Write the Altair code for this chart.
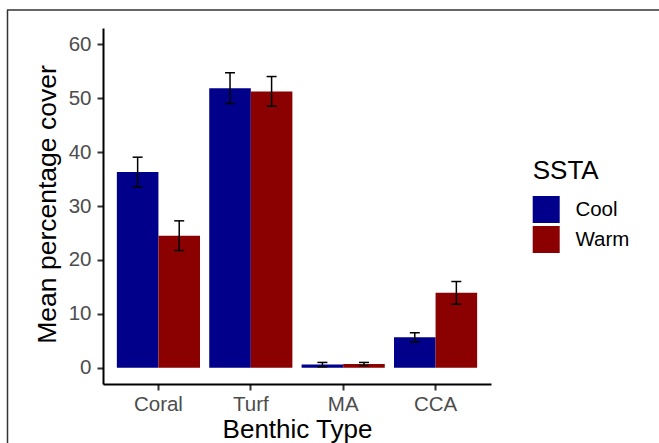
import altair as alt
import pandas as pd

categories = ["Coral", "Turf", "MA", "CCA"]
groups = ["Cool", "Warm"]
mean_cool = [36.3, 51.85, 0.6, 5.65]
mean_warm = [24.5, 51.25, 0.7, 13.9]
se_cool = [2.75, 2.85, 0.4, 0.85]
se_warm = [2.75, 2.75, 0.3, 2.1]
y_ticks = [0, 10, 20, 30, 40, 50, 60]
colors = ["#00008B", "#8B0000"]

rows = []
for i, c in enumerate(categories):
    rows.append(dict(type=c, SSTA="Cool", mean=mean_cool[i],
                     lo=mean_cool[i] - se_cool[i], hi=mean_cool[i] + se_cool[i]))
    rows.append(dict(type=c, SSTA="Warm", mean=mean_warm[i],
                     lo=mean_warm[i] - se_warm[i], hi=mean_warm[i] + se_warm[i]))
df = pd.DataFrame(rows)

FONT = "Liberation Sans"

x_enc = alt.X(
    "type:N", sort=categories, title="Benthic Type",
    scale=alt.Scale(paddingInner=0.1, paddingOuter=0.15),
    axis=alt.Axis(labelAngle=0, labelFontSize=20.5, labelColor="#4D4D4D",
                  labelPadding=4, tickSize=6, tickWidth=2, tickColor="#333333",
                  domainColor="black", domainWidth=2,
                  titleFontSize=26, titleFontWeight="normal", titleColor="black",
                  titleBaseline="alphabetic", titleY=53, titleX=194),
)
xoff_enc = alt.XOffset("SSTA:N", sort=groups,
                       scale=alt.Scale(paddingInner=0, paddingOuter=0))
y_scale = alt.Scale(domain=[-3, 63], nice=False)

bars = alt.Chart(df).mark_bar().encode(
    x=x_enc,
    xOffset=xoff_enc,
    y=alt.Y("mean:Q", scale=y_scale, title="Mean percentage cover",
            axis=alt.Axis(values=y_ticks, labelFontSize=20.5, labelColor="#4D4D4D",
                          labelPadding=6, tickSize=6, tickWidth=2, tickColor="#333333",
                          domainColor="black", domainWidth=2,
                          titleFontSize=26.5, titleFontWeight="normal", titleColor="black",
                          titleBaseline="alphabetic", titleAlign="center",
                          titleAngle=270, titleX=-48, titleY=176)),
    y2=alt.datum(0),
    color=alt.Color("SSTA:N", scale=alt.Scale(domain=groups, range=colors),
                    legend=alt.Legend(orient="none", legendX=429.7, legendY=130,
                                      title="SSTA", titleFontSize=26,
                                      titleFontWeight="normal", titleColor="black",
                                      titleFont=FONT, titlePadding=12,
                                      labelFontSize=20.5, labelColor="black",
                                      labelFont=FONT, labelOffset=15.7,
                                      symbolType="square", symbolSize=729,
                                      symbolStrokeWidth=0, symbolOpacity=1,
                                      rowPadding=3, padding=0)),
)

err = alt.Chart(df).mark_rule(color="black", strokeWidth=1.5).encode(
    x=alt.X("type:N", sort=categories),
    xOffset=alt.XOffset("SSTA:N", sort=groups),
    y=alt.Y("lo:Q"),
    y2="hi:Q",
)
cap_hi = alt.Chart(df).mark_tick(color="black", size=10, thickness=1.5,
                                 orient="horizontal", opacity=1).encode(
    x=alt.X("type:N", sort=categories),
    xOffset=alt.XOffset("SSTA:N", sort=groups),
    y=alt.Y("hi:Q"),
)
cap_lo = alt.Chart(df).mark_tick(color="black", size=10, thickness=1.5,
                                 orient="horizontal", opacity=1).encode(
    x=alt.X("type:N", sort=categories),
    xOffset=alt.XOffset("SSTA:N", sort=groups),
    y=alt.Y("lo:Q"),
)

frame_df = pd.DataFrame({"k": [0]})
frame_left = alt.Chart(frame_df).mark_rule(color="#333333", strokeWidth=1.5).encode(
    x=alt.value(-95.5), y=alt.value(-18), y2=alt.value(420)
)
frame_top = alt.Chart(frame_df).mark_rule(color="#333333", strokeWidth=1.5).encode(
    x=alt.value(-96), x2=alt.value(560), y=alt.value(-18)
)

chart = alt.layer(bars, err, cap_hi, cap_lo, frame_left, frame_top).properties(
    width=388, height=356,
    autosize=alt.AutoSizeParams(type="none"),
    padding={"left": 103, "top": 28, "right": 168, "bottom": 59},
    background="white",
).configure_view(stroke=None).configure_axis(
    grid=False, labelFont=FONT, titleFont=FONT
).configure_legend(labelFont=FONT, titleFont=FONT)

chart.save("out.html", embed_options={"renderer": "svg", "actions": False})
